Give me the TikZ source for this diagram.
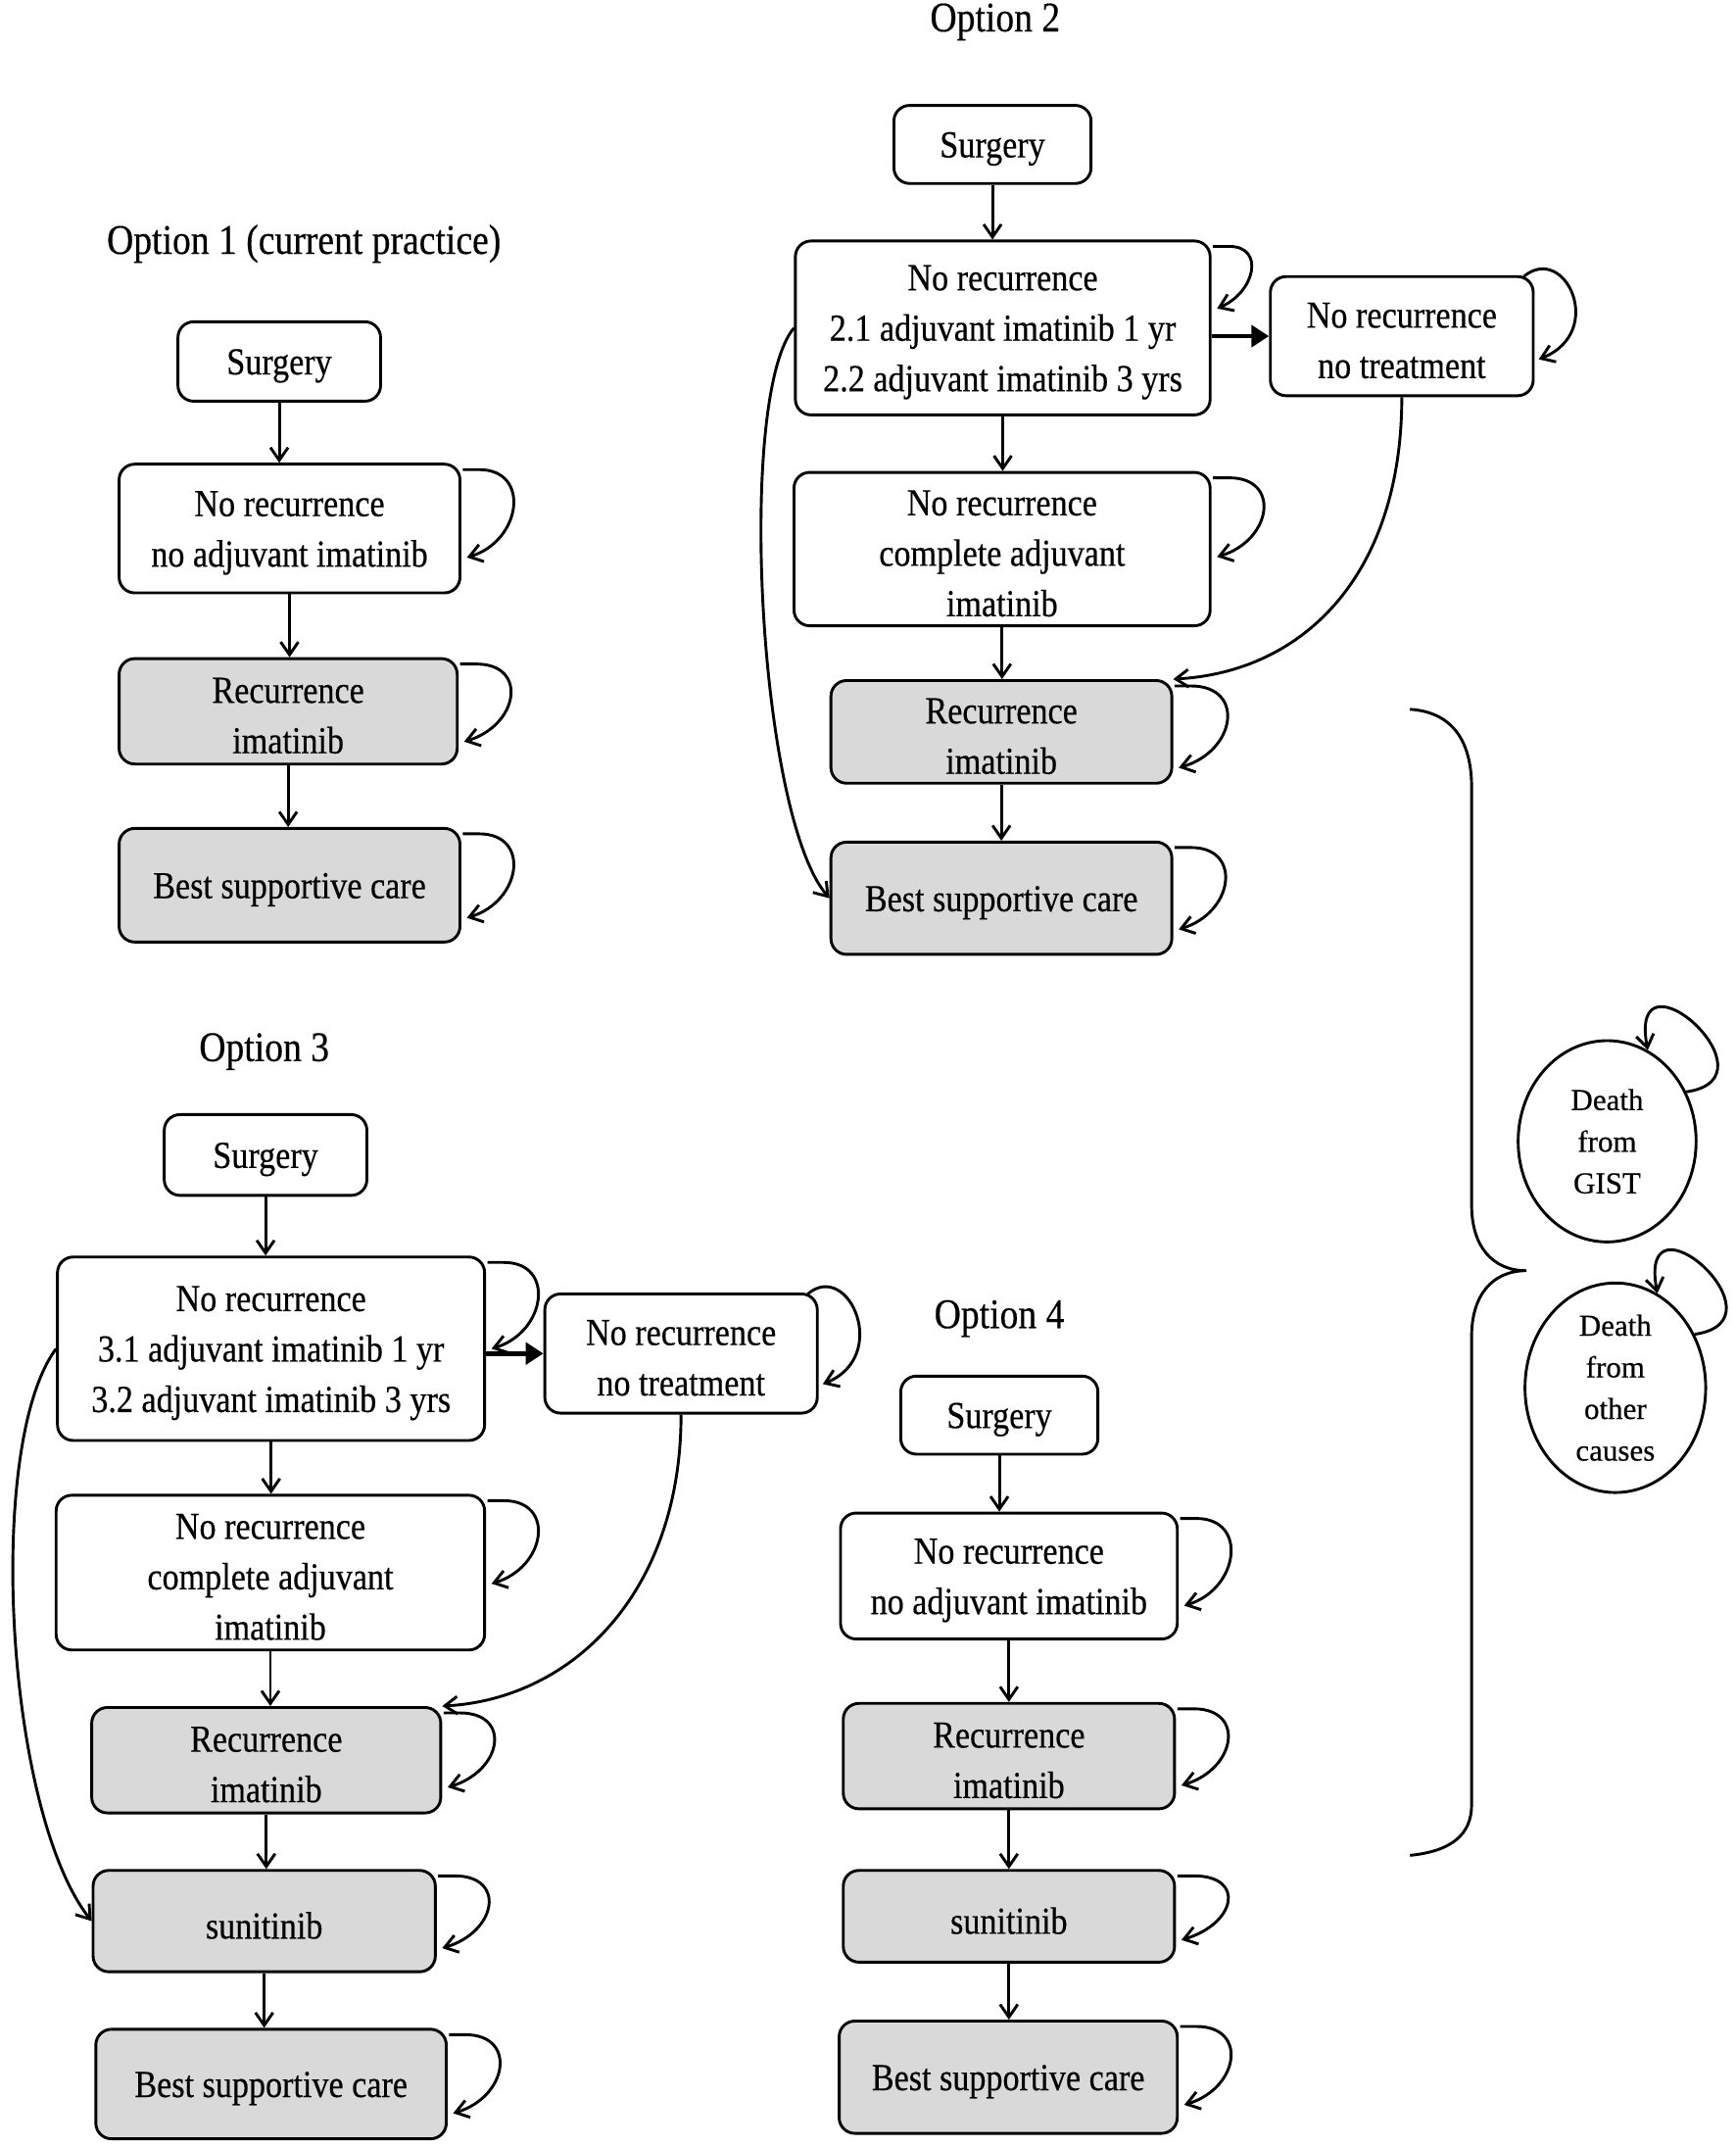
\documentclass[tikz,border=0pt]{standalone}
\usepackage{fontspec}
\setmainfont{Liberation Serif}[FakeStretch=0.875,FakeBold=0.4]
\newfontfamily\deathfont{Liberation Serif}[FakeBold=0.4]
\usetikzlibrary{arrows.meta,calc,shapes.geometric}
\definecolor{boxgray}{HTML}{D9D9D9}

\newcommand{\mybx}[7]{\node[#6, minimum width={(#4-#2)*1.3975pt}, minimum height={(#5-#3)*1.3975pt}] (#1) at ({(#2+#4)/2},{(#3+#5)/2}) {};
  \node[boxtext] (#1t) at ([yshift=-4.5pt]#1.center) {#7};}
\newcommand{\myloop}[3]{\draw[arr] ([shift={(1,5)}]#1.north east) -- ++(12,0) .. controls +(#3,0) and +({#3+2},-12) .. ($(#1.north east)!#2!(#1.south east)+(4,0)$);}

\tikzset{
  wbox/.style={draw, line width=2.9pt, rounded corners=16pt, fill=white, inner sep=0pt},
  gbox/.style={wbox, fill=boxgray},
  boxtext/.style={align=center, inner sep=0pt, font=\fontsize{39}{51.5}\selectfont},
  arr/.style={-{Straight Barb[length=13pt,width=18pt]}, line width=2.9pt},
  thickarr/.style={-{Triangle[length=18pt,width=22pt]}, line width=4.5pt},
  ttl/.style={inner sep=0pt, font=\fontsize{43}{50}\selectfont},
  death/.style={ellipse, draw, line width=2.9pt, fill=white, align=center, inner sep=0pt, font=\deathfont\fontsize{31}{42.5}\selectfont}
}

\begin{document}
\begin{tikzpicture}[x=1.3975pt,y=-1.3975pt]
\useasboundingbox (0,0) rectangle (1268,1568);

% ---------- Option 1
\node[ttl] (o1) at (222,178) {Option 1 (current practice)};
\mybx{s1}{130}{235}{278}{293}{wbox}{Surgery}
\mybx{n1}{87}{339}{336}{433}{wbox}{No recurrence\\no adjuvant imatinib}
\mybx{r1}{87}{481}{334}{558}{gbox}{Recurrence\\imatinib}
\mybx{b1}{87}{605}{336}{688}{gbox}{Best supportive care}
\draw[arr] (s1.south) -- (s1.south |- n1.north);
\draw[arr] (n1.south) -- (n1.south |- r1.north);
\draw[arr] (r1.south) -- (r1.south |- b1.north);
\myloop{n1}{0.72}{38}
\myloop{r1}{0.78}{38}
\myloop{b1}{0.78}{38}

% ---------- Option 2
\node[ttl] (o2) at (727,16) {Option 2};
\mybx{s2}{653}{77}{797}{134}{wbox}{Surgery}
\mybx{a2}{581}{176}{884}{303}{wbox}{No recurrence\\2.1 adjuvant imatinib 1 yr\\2.2 adjuvant imatinib 3 yrs}
\mybx{t2}{928}{202}{1120}{289}{wbox}{No recurrence\\no treatment}
\mybx{c2}{580}{345}{884}{457}{wbox}{No recurrence\\complete adjuvant\\imatinib}
\mybx{r2}{607}{497}{856}{572}{gbox}{Recurrence\\imatinib}
\mybx{b2}{607}{615}{856}{697}{gbox}{Best supportive care}
\draw[arr] (s2.south) -- (s2.south |- a2.north);
\draw[arr] (a2.south) -- (a2.south |- c2.north);
\draw[arr] (c2.south) -- (c2.south |- r2.north);
\draw[arr] (r2.south) -- (r2.south |- b2.north);
\draw[thickarr] (a2.east |- t2.west) -- (t2.west);
\draw[arr] (t2.south) .. controls +(0,130) and +(95,-5) .. (r2.north east);
\draw[arr] (a2.west) .. controls +(-42,50) and +(-52,-60) .. (b2.west);
\myloop{a2}{0.39}{26}
\draw[arr] ([shift={(-8,1)}]t2.north east) .. controls +(30,-25) and +(50,-20) .. ($(t2.north east)!0.69!(t2.south east)+(3,0)$);
\myloop{c2}{0.55}{38}
\myloop{r2}{0.84}{40}
\myloop{b2}{0.77}{38}

% ---------- Option 3
\node[ttl] (o3) at (193,768) {Option 3};
\mybx{s3}{120}{814}{268}{873}{wbox}{Surgery}
\mybx{a3}{42}{918}{354}{1052}{wbox}{No recurrence\\3.1 adjuvant imatinib 1 yr\\3.2 adjuvant imatinib 3 yrs}
\mybx{t3}{398}{945}{597}{1032}{wbox}{No recurrence\\no treatment}
\mybx{c3}{41}{1092}{354}{1205}{wbox}{No recurrence\\complete adjuvant\\imatinib}
\mybx{r3}{67}{1247}{322}{1324}{gbox}{Recurrence\\imatinib}
\mybx{u3}{68}{1366}{318}{1440}{gbox}{sunitinib}
\mybx{b3}{70}{1482}{326}{1562}{gbox}{Best supportive care}
\draw[arr] (s3.south) -- (s3.south |- a3.north);
\draw[arr] (a3.south) -- (a3.south |- c3.north);
\draw[arr] (c3.south) -- (c3.south |- r3.north);
\draw[arr] (r3.south) -- (r3.south |- u3.north);
\draw[arr] (u3.south) -- (u3.south |- b3.north);
\draw[thickarr] (a3.east |- t3.west) -- (t3.west);
\draw[arr] (t3.south) .. controls +(0,130) and +(95,-5) .. (r3.north east);
\draw[arr] (a3.west) .. controls +(-52,70) and +(-63,-80) .. (u3.west);
\myloop{a3}{0.5}{38}
\draw[arr] ([shift={(-8,1)}]t3.north east) .. controls +(30,-25) and +(50,-20) .. ($(t3.north east)!0.75!(t3.south east)+(3,0)$);
\myloop{c3}{0.57}{38}
\myloop{r3}{0.75}{38}
\myloop{u3}{0.76}{38}
\myloop{b3}{0.76}{38}

% ---------- Option 4
\node[ttl] (o4) at (730,963) {Option 4};
\mybx{s4}{658}{1005}{802}{1062}{wbox}{Surgery}
\mybx{n4}{614}{1105}{860}{1197}{wbox}{No recurrence\\no adjuvant imatinib}
\mybx{r4}{616}{1244}{858}{1321}{gbox}{Recurrence\\imatinib}
\mybx{u4}{616}{1366}{858}{1433}{gbox}{sunitinib}
\mybx{b4}{613}{1476}{860}{1558}{gbox}{Best supportive care}
\draw[arr] (s4.south) -- (s4.south |- n4.north);
\draw[arr] (n4.south) -- (n4.south |- r4.north);
\draw[arr] (r4.south) -- (r4.south |- u4.north);
\draw[arr] (u4.south) -- (u4.south |- b4.north);
\myloop{n4}{0.73}{38}
\myloop{r4}{0.77}{38}
\myloop{u4}{0.75}{38}
\myloop{b4}{0.74}{38}

% ---------- Brace
\draw[line width=2.9pt] (1030,518) .. controls (1060,520) and (1075,540) .. (1075,575) -- (1075,880)
  .. controls (1075,910) and (1090,928) .. (1115,928)
  .. controls (1090,928) and (1075,946) .. (1075,976) -- (1075,1318)
  .. controls (1075,1340) and (1060,1352) .. (1030,1355);

% ---------- Death states
\node[death, minimum width={130*1.3975pt}, minimum height={147*1.3975pt}] (dg) at (1174,833.5) {Death\\from\\GIST};
\node[death, minimum width={132*1.3975pt}, minimum height={153*1.3975pt}] (do) at (1180,1013.5) {Death\\from\\other\\causes};
\draw[arr] (dg.32) .. controls +(70,-10) and +(-15,-80) .. (dg.66);
\draw[arr] (do.34) .. controls +(70,-10) and +(-15,-80) .. (do.66);
\end{tikzpicture}
\end{document}
